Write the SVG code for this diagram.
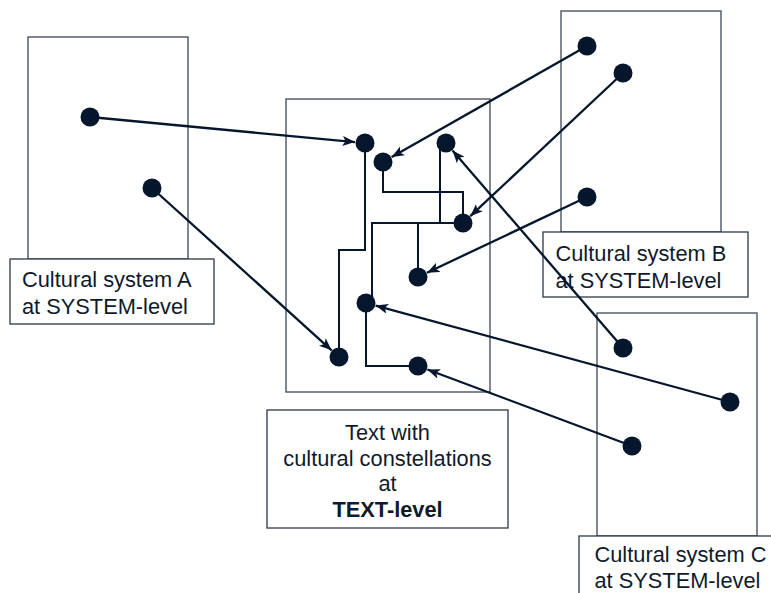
<svg xmlns="http://www.w3.org/2000/svg" width="771" height="593" viewBox="0 0 771 593">
<style>
.frame{fill:none;stroke:#3e4858;stroke-width:1.3}
.label{fill:#ffffff;stroke:#2e3848;stroke-width:1.3}
.dot{fill:#06162c}
.lbl{font-family:"Liberation Sans",Arial,sans-serif;font-size:21.8px;fill:#0e1a2b}
.wire{fill:none;stroke:#06162c;stroke-width:2}
.arrow{fill:none;stroke:#06162c;stroke-width:2.3;marker-end:url(#ah)}
</style>
<defs>
<marker id="ah" markerWidth="14" markerHeight="12" refX="12.5" refY="5" orient="auto" markerUnits="userSpaceOnUse">
<path d="M0,0 L12.5,5 L0,10 L3,5 Z" fill="#06162c"/>
</marker>
</defs>
<rect width="771" height="593" fill="#ffffff"/>
<g id="system-A">
<rect class="frame" x="28" y="37" width="160" height="222"/>
<rect class="label" x="10" y="259" width="204" height="65"/>
<text class="lbl" x="22" y="287">Cultural system A</text>
<text class="lbl" x="22" y="313.5">at SYSTEM-level</text>
<circle class="dot" cx="90" cy="117" r="9.5"/>
<circle class="dot" cx="152" cy="188" r="9.5"/>
</g>
<g id="system-B">
<rect class="frame" x="561" y="11" width="160" height="221"/>
<rect class="label" x="543" y="232" width="205" height="65"/>
<text class="lbl" x="555.5" y="261">Cultural system B</text>
<text class="lbl" x="555.5" y="287.5">at SYSTEM-level</text>
<circle class="dot" cx="587" cy="46" r="9.5"/>
<circle class="dot" cx="623" cy="73" r="9.5"/>
<circle class="dot" cx="587" cy="197" r="9.5"/>
</g>
<g id="system-C">
<rect class="frame" x="597" y="313" width="160" height="223"/>
<rect class="label" x="579" y="536" width="205" height="65"/>
<text class="lbl" x="594.5" y="561.5">Cultural system C</text>
<text class="lbl" x="594.5" y="588">at SYSTEM-level</text>
<circle class="dot" cx="623" cy="348" r="9.5"/>
<circle class="dot" cx="730" cy="402" r="9.5"/>
<circle class="dot" cx="632" cy="446" r="9.5"/>
</g>
<g id="text-level">
<rect class="frame" x="286" y="99" width="204" height="293"/>
<rect class="label" x="267" y="410" width="241" height="118"/>
<text class="lbl" x="387.5" y="439.5" text-anchor="middle">Text with</text>
<text class="lbl" x="387.5" y="465.5" text-anchor="middle">cultural constellations</text>
<text class="lbl" x="387.5" y="491" text-anchor="middle">at</text>
<text class="lbl" x="387.5" y="517" text-anchor="middle" font-weight="bold">TEXT-level</text>
<path class="wire" d="M365,143 V250 H339 V357"/>
<path class="wire" d="M383,162 V192 H463 V223"/>
<path class="wire" d="M440,143 V223"/>
<path class="wire" d="M372,303 V223 H463"/>
<path class="wire" d="M418,223 V277"/>
<path class="wire" d="M366,303 V366 H418"/>
<circle class="dot" cx="365" cy="143" r="9.5"/>
<circle class="dot" cx="383" cy="162" r="9.5"/>
<circle class="dot" cx="446" cy="143" r="9.5"/>
<circle class="dot" cx="463" cy="223" r="9.5"/>
<circle class="dot" cx="418" cy="277" r="9.5"/>
<circle class="dot" cx="366" cy="303" r="9.5"/>
<circle class="dot" cx="339" cy="357" r="9.5"/>
<circle class="dot" cx="418" cy="366" r="9.5"/>
</g>
<g id="connectors">
<line class="arrow" x1="90" y1="117" x2="355" y2="142.1"/>
<line class="arrow" x1="152" y1="188" x2="331.6" y2="350.3"/>
<line class="arrow" x1="587" y1="46" x2="391.7" y2="157.1"/>
<line class="arrow" x1="623" y1="73" x2="470.3" y2="216.2"/>
<line class="arrow" x1="587" y1="197" x2="427" y2="272.7"/>
<line class="arrow" x1="623" y1="348" x2="452.5" y2="150.6"/>
<line class="arrow" x1="730" y1="402" x2="375.6" y2="305.6"/>
<line class="arrow" x1="632" y1="446" x2="427.4" y2="369.5"/>
</g>
</svg>
